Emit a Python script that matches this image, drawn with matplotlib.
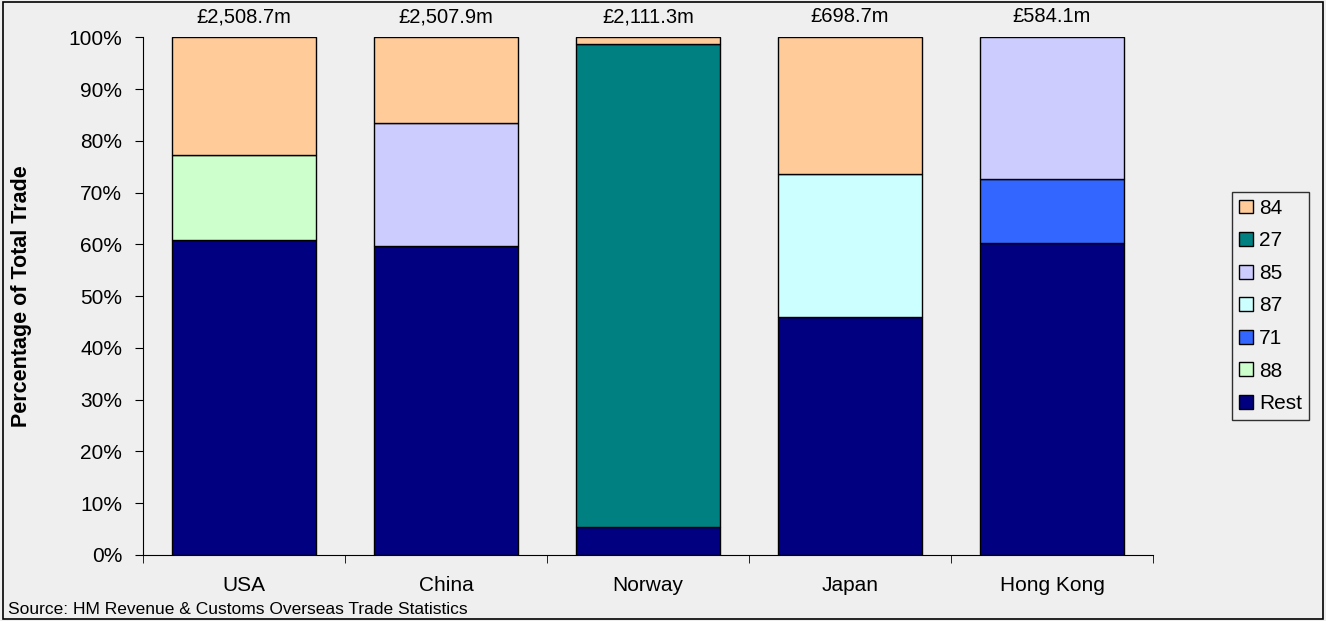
import matplotlib.pyplot as plt
from matplotlib.patches import Rectangle
import numpy as np

plt.rcParams['font.family'] = ['Liberation Sans', 'DejaVu Sans']

# ======================
# DATOS
# ======================
countries = ["USA", "China", "Norway", "Japan", "Hong Kong"]
totals = ["£2,508.7m", "£2,507.9m", "£2,111.3m", "£698.7m", "£584.1m"]

# share of total trade (%) per commodity chapter, bottom to top
rest = [60.8, 59.7, 5.5, 46.0, 60.3]
ch88 = [16.5, 0, 0, 0, 0]
ch71 = [0, 0, 0, 0, 12.4]
ch87 = [0, 0, 0, 27.5, 0]
ch85 = [0, 23.7, 0, 0, 27.3]
ch27 = [0, 0, 93.3, 0, 0]
ch84 = [22.7, 16.6, 1.2, 26.5, 0]

series = [("Rest", rest, "#000080"),
          ("88", ch88, "#CCFFCC"),
          ("71", ch71, "#3366FF"),
          ("87", ch87, "#CCFFFF"),
          ("85", ch85, "#CCCCFF"),
          ("27", ch27, "#008080"),
          ("84", ch84, "#FFCC99")]

bg = "#EFEFEF"
fig = plt.figure(figsize=(13.26, 6.21), dpi=100, facecolor=bg)
ax = fig.add_axes([143 / 1326, 66 / 621, 1010 / 1326, 517.7 / 621])
ax.set_facecolor(bg)

x = np.arange(len(countries))
bottom = np.zeros(len(countries))
handles = {}
for name, vals, col in series:
    vals = np.array(vals, dtype=float)
    mask = vals > 0
    b = ax.bar(x[mask], vals[mask], bottom=bottom[mask], width=0.71,
               color=col, edgecolor="black", linewidth=1)
    handles[name] = b
    bottom += vals

ax.set_xlim(-0.5, len(countries) - 0.5)
ax.set_ylim(0, 100)
ax.set_yticks(np.arange(0, 101, 10))
ax.set_yticklabels([f"{v}%" for v in range(0, 101, 10)], fontsize=15)
ax.set_xticks(x)
ax.set_xticklabels(countries, fontsize=15)
ax.tick_params(axis="x", which="major", length=0, pad=15)
ax.set_xticks(np.arange(-0.5, len(countries), 1), minor=True)
ax.tick_params(axis="x", which="minor", length=6, direction="out")
ax.tick_params(axis="y", length=6, direction="out", pad=9)
for s in ["top", "right"]:
    ax.spines[s].set_visible(False)

ax.set_ylabel("Percentage of Total Trade", fontsize=15.5, fontweight="bold", labelpad=26)

for xi, t in zip(x, totals):
    ax.text(xi, 102.9, t, ha="center", va="baseline", fontsize=14.5, clip_on=False)

order = ["84", "27", "85", "87", "71", "88", "Rest"]
leg = ax.legend([handles[k] for k in order], order, loc="center left",
                bbox_to_anchor=(1.078, 0.481), fontsize=15, frameon=True,
                fancybox=False, edgecolor="black", facecolor=bg,
                handlelength=0.65, handleheight=0.65, handletextpad=0.3,
                labelspacing=0.65, borderpad=0.35, borderaxespad=0)
leg.get_frame().set_linewidth(1)

fig.text(8 / 1326, 1 - 610 / 621, "Source: HM Revenue & Customs Overseas Trade Statistics",
         fontsize=12.5, ha="left", va="center")

fig.patches.append(Rectangle((0.002, 0.003), 0.996, 0.994, transform=fig.transFigure,
                             fill=False, edgecolor="black", linewidth=1.2))

fig.savefig("out.png", dpi=100, facecolor=bg)
